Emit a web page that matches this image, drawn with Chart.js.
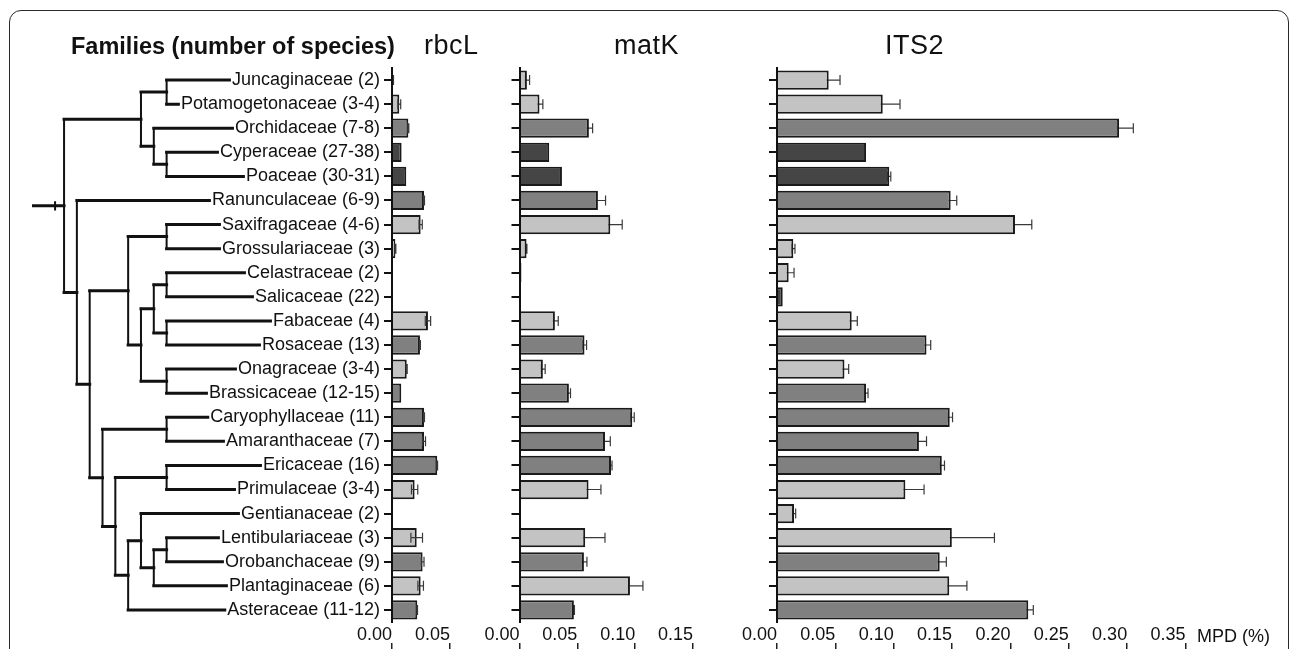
<!DOCTYPE html>
<html>
<head>
<meta charset="utf-8">
<script src="https://cdn.jsdelivr.net/npm/chart.js@4.4.1/dist/chart.umd.min.js"></script>
<style>
  html, body { margin: 0; padding: 0; background: #fff; overflow: hidden; }
  #page { position: relative; width: 1290px; height: 649px; overflow: hidden; font-family: "Liberation Sans", Arial, sans-serif; color: #111; }
  #page canvas { position: absolute; left: 0; top: 0; }
  .frame { position: absolute; left: 9px; top: 10px; width: 1280px; height: 700px; border: 1.5px solid #2a2a2a; border-radius: 12px; box-sizing: border-box; }
  .hdr { position: absolute; line-height: 1; white-space: nowrap; }
</style>
</head>
<body>
<div id="page">
  <div class="frame"></div>
  <canvas id="tree" width="1290" height="660"></canvas>
  <canvas id="rbcl" width="1290" height="660"></canvas>
  <canvas id="matk" width="1290" height="660"></canvas>
  <canvas id="its2" width="1290" height="660"></canvas>
  <div class="hdr" style="left:71px;top:35px;font-size:23.5px;font-weight:bold">Families (number of species)</div>
  <div class="hdr" style="left:424px;top:32px;font-size:27px;letter-spacing:0.5px">rbcL</div>
  <div class="hdr" style="left:614px;top:32px;font-size:27px;letter-spacing:0.5px">matK</div>
  <div class="hdr" style="left:885px;top:32px;font-size:27px;letter-spacing:0.5px">ITS2</div>
  <div class="hdr" style="left:1197px;top:627px;font-size:18px">MPD (%)</div>
</div>
<script>
// families in tree order, number of species in brackets
const FAMILIES = [
  "Juncaginaceae (2)", "Potamogetonaceae (3-4)", "Orchidaceae (7-8)", "Cyperaceae (27-38)",
  "Poaceae (30-31)", "Ranunculaceae (6-9)", "Saxifragaceae (4-6)", "Grossulariaceae (3)",
  "Celastraceae (2)", "Salicaceae (22)", "Fabaceae (4)", "Rosaceae (13)", "Onagraceae (3-4)",
  "Brassicaceae (12-15)", "Caryophyllaceae (11)", "Amaranthaceae (7)", "Ericaceae (16)",
  "Primulaceae (3-4)", "Gentianaceae (2)", "Lentibulariaceae (3)", "Orobanchaceae (9)",
  "Plantaginaceae (6)", "Asteraceae (11-12)"
];
// bar shade per family: L light, M medium, D dark
const SHADE = ["L", "L", "M", "D", "D", "M", "L", "L", "L", "D", "L", "M", "L", "M", "M", "M", "M", "L", "L", "L", "M", "L", "M"];

// mean pairwise distance and its error bar
const RBCL = [0.001, 0.0063, 0.0141, 0.0083, 0.0123, 0.0276, 0.0247, 0.0029, 0, 0, 0.031, 0.0241,
  0.0127, 0.008, 0.0276, 0.0276, 0.039, 0.0195, 0, 0.0213, 0.0264, 0.0247, 0.0218];
const RBCL_ERR = [0.0003, 0.0012, 0.0004, 0, 0, 0.0004, 0.0014, 0.0004, 0, 0, 0.0023, 0.0004,
  0.0004, 0, 0.0004, 0.0013, 0.0003, 0.0027, 0, 0.005, 0.0012, 0.0024, 0.0002];
const MATK = [0.0064, 0.0173, 0.06, 0.0257, 0.0367, 0.0678, 0.0785, 0.0061, 0.0017, 0.0009, 0.0306, 0.0562,
  0.0202, 0.0427, 0.0975, 0.0739, 0.0791, 0.0597, 0, 0.0568, 0.0557, 0.0955, 0.047];
const MATK_ERR = [0.0023, 0.0029, 0.0032, 0, 0, 0.0066, 0.0103, 0.0003, 0, 0, 0.0029, 0.0018,
  0.002, 0.0014, 0.0017, 0.0046, 0.0009, 0.0107, 0, 0.0171, 0.0026, 0.0112, 0.0005];
const ITS2 = [0.0443, 0.0906, 0.2931, 0.0763, 0.0962, 0.1488, 0.2039, 0.014, 0.01, 0.0049, 0.064, 0.1281,
  0.0578, 0.0763, 0.148, 0.1216, 0.1412, 0.11, 0.0146, 0.1498, 0.1394, 0.1476, 0.2153];
const ITS2_ERR = [0.0097, 0.0148, 0.0122, 0, 0.0013, 0.0052, 0.0144, 0.0014, 0.0046, 0, 0.0048, 0.0036,
  0.0036, 0.0017, 0.0024, 0.0065, 0.0023, 0.016, 0.0014, 0.0365, 0.0057, 0.0151, 0.0043];

const RBCL_TICKS = [0, 0.05];
const MATK_TICKS = [0, 0.05, 0.10, 0.15];
const ITS2_TICKS = [0, 0.05, 0.10, 0.15, 0.20, 0.25, 0.30, 0.35];

// cladogram: d = depth level of the node, leaves are family indexes
const TREE = {d: 0, c: [
  {d: 6, c: [{d: 8, c: [0, 1]}, {d: 7, c: [2, {d: 8, c: [3, 4]}]}]},
  {d: 1, c: [5, {d: 2, c: [
    {d: 5, c: [{d: 8, c: [6, 7]}, {d: 6, c: [{d: 7, c: [{d: 8, c: [8, 9]}, {d: 8, c: [10, 11]}]}, {d: 8, c: [12, 13]}]}]},
    {d: 3, c: [{d: 8, c: [14, 15]}, {d: 4, c: [{d: 8, c: [16, 17]},
      {d: 5, c: [{d: 6, c: [18, {d: 7, c: [{d: 8, c: [19, 20]}, 21]}]}, 22]}]}]}
  ]}]}
]};
const ROOT_STUB = -2.5;
const ROOT_MARK = -0.7;
const TIP_DEPTH = 24.8;

const FONT = "'Liberation Sans', Arial, sans-serif";
const COLORS = { L: "#c3c3c3", M: "#808080", D: "#454545" };

// tree -> line segments (gaps between them)
const hSeg = [], vSeg = [];
function place(node) {
  if (typeof node === "number") return node;
  const ys = node.c.map(place);
  node.c.forEach((ch, k) => {
    const end = typeof ch === "number" ? TIP_DEPTH : ch.d;
    hSeg.push({x: node.d, y: ys[k]}, {x: end, y: ys[k]}, {x: null, y: null});
  });
  vSeg.push({x: node.d, y: ys[0]}, {x: node.d, y: ys[ys.length - 1]}, {x: null, y: null});
  return (ys[0] + ys[ys.length - 1]) / 2;
}
const rootY = place(TREE);
hSeg.push({x: ROOT_STUB, y: rootY}, {x: TREE.d, y: rootY}, {x: null, y: null});
vSeg.push({x: ROOT_MARK, y: rootY - 0.15}, {x: ROOT_MARK, y: rootY + 0.15});

const AREA_TOP = 68, AREA_BOTTOM = 622, CANVAS_W = 1290, CANVAS_H = 660;
const X_LABEL_H = 21, X_TICK_H = 7;

new Chart(document.getElementById("tree"), {
  type: "scatter",
  data: {
    datasets: [
      { data: hSeg, showLine: true, borderColor: "#111", borderWidth: 3, borderCapStyle: "square", pointRadius: 0, pointHoverRadius: 0 },
      { data: vSeg, showLine: true, borderColor: "#111", borderWidth: 2, borderCapStyle: "square", pointRadius: 0, pointHoverRadius: 0 }
    ]
  },
  options: {
    responsive: false, animation: false, events: [],
    layout: { padding: { left: 32, right: CANVAS_W - 382, top: AREA_TOP, bottom: CANVAS_H - AREA_BOTTOM } },
    plugins: { legend: { display: false }, tooltip: { enabled: false } },
    scales: {
      x: { type: "linear", display: false, min: ROOT_STUB, max: TIP_DEPTH },
      y: { type: "linear", display: false, reverse: true, min: -0.5, max: FAMILIES.length - 0.5 }
    }
  }
});

// error bars, behind or on top of the bars
function drawErrors(chart, front) {
  const ds = chart.data.datasets[0];
  if (!!ds.errFront !== front) return;
  const { ctx, scales: { x, y } } = chart;
  ctx.save();
  ctx.strokeStyle = "#3a3a3a";
  ctx.lineWidth = 1.2;
  ds.errors.forEach((e, i) => {
    if (!e) return;
    const yc = y.getPixelForValue(i);
    const xl = x.getPixelForValue(ds.data[i] - e);
    const xr = x.getPixelForValue(ds.data[i] + e);
    ctx.beginPath();
    ctx.moveTo(xl, yc); ctx.lineTo(xr, yc);
    ctx.moveTo(xl, yc - 5); ctx.lineTo(xl, yc + 5);
    ctx.moveTo(xr, yc - 5); ctx.lineTo(xr, yc + 5);
    ctx.stroke();
  });
  ctx.restore();
}
const errorBars = {
  id: "errorBars",
  beforeDatasetsDraw(chart) { drawErrors(chart, false); },
  afterDatasetsDraw(chart) { drawErrors(chart, true); }
};

function panel(id, values, errs, ticks, axisX, areaRight, withLabels, errFront) {
  const yWidth = withLabels ? 300 : 8;
  const setTicks = s => { s.ticks = ticks.map(v => ({ value: v })); };
  return new Chart(document.getElementById(id), {
    type: "bar",
    plugins: [errorBars],
    data: {
      labels: FAMILIES,
      datasets: [{
        data: values,
        errors: errs,
        errFront: errFront,
        backgroundColor: SHADE.map(s => COLORS[s]),
        borderColor: "#1a1a1a",
        borderWidth: 2,
        barPercentage: 0.8,
        categoryPercentage: 1
      }]
    },
    options: {
      indexAxis: "y",
      responsive: false, animation: false, events: [],
      layout: { padding: { left: axisX - yWidth, right: CANVAS_W - areaRight, top: AREA_TOP,
                           bottom: CANVAS_H - AREA_BOTTOM - X_LABEL_H - X_TICK_H } },
      plugins: { legend: { display: false }, tooltip: { enabled: false } },
      scales: {
        y: {
          afterFit: s => { s.width = yWidth; },
          border: { display: true, color: "#111", width: 2, z: 1 },
          grid: { display: true, drawOnChartArea: false, drawTicks: true, tickLength: 8, color: "#111", lineWidth: 2, offset: false },
          ticks: {
            display: withLabels, autoSkip: false, padding: 4, color: "#111",
            font: { family: FONT, size: 18 },
            showLabelBackdrop: true, backdropColor: "#fff",
            backdropPadding: { top: 1, bottom: 1, left: 1, right: 4 }
          }
        },
        x: {
          type: "linear", min: ticks[0], max: ticks[ticks.length - 1],
          afterBuildTicks: setTicks,
          afterFit: s => { s.height = X_LABEL_H; },
          grid: { display: false, drawTicks: false }, border: { display: false },
          ticks: { align: "end", padding: 4, color: "#111", font: { family: FONT, size: 18, lineHeight: 1 },
                   callback: v => v.toFixed(2) }
        },
        x2: {
          type: "linear", position: "bottom", weight: 1,
          min: ticks[0], max: ticks[ticks.length - 1],
          afterBuildTicks: setTicks,
          afterFit: s => { s.height = X_TICK_H; },
          border: { display: false },
          grid: { drawOnChartArea: false, drawTicks: true, tickLength: X_TICK_H, color: "#222", lineWidth: 1.5 },
          ticks: { display: false }
        }
      }
    }
  });
}

panel("rbcl", RBCL, RBCL_ERR, RBCL_TICKS, 392, 450, true, true);
panel("matk", MATK, MATK_ERR, MATK_TICKS, 519.5, 693, false, false);
panel("its2", ITS2, ITS2_ERR, ITS2_TICKS, 777, 1185.5, false, false);
</script>
</body>
</html>
